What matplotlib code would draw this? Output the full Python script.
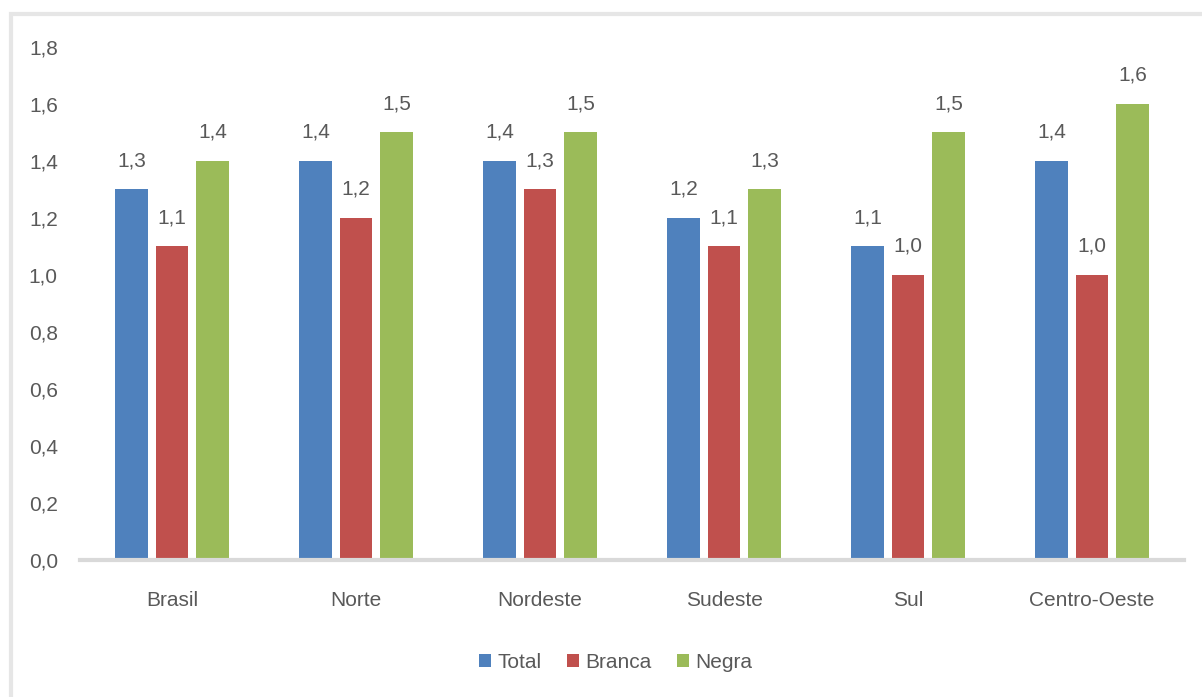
import numpy as np
import matplotlib.pyplot as plt
from matplotlib.patches import Rectangle

# dados
regioes = ['Brasil', 'Norte', 'Nordeste', 'Sudeste', 'Sul', 'Centro-Oeste']
total = [1.3, 1.4, 1.4, 1.2, 1.1, 1.4]
branca = [1.1, 1.2, 1.3, 1.1, 1.0, 1.0]
negra = [1.4, 1.5, 1.5, 1.3, 1.5, 1.6]
yticks = [0.0, 0.2, 0.4, 0.6, 0.8, 1.0, 1.2, 1.4, 1.6, 1.8]

plt.rcParams['font.family'] = ['Liberation Sans', 'DejaVu Sans']
cinza = '#595959'

fig = plt.figure(figsize=(12.02, 6.97), dpi=100)
ax = fig.add_axes([0.0666, 0.1966, 0.9184, 0.736])

# moldura externa
fig.patches.append(Rectangle((0.009, -0.01), 1.0, 0.99, transform=fig.transFigure,
                             fill=False, edgecolor='#e6e6e6', linewidth=3))

x = np.arange(len(regioes))
w = 0.175
d = 0.22
series = [('Total', total, '#4f81bd', -d), ('Branca', branca, '#c0504d', 0),
          ('Negra', negra, '#9bbb59', d)]

for nome, vals, cor, off in series:
    bars = ax.bar(x + off, vals, w, color=cor, label=nome, zorder=2)
    for b, v in zip(bars, vals):
        ax.annotate(f'{v:.1f}'.replace('.', ','), (b.get_x() + b.get_width() / 2, v),
                    xytext=(0, 14), textcoords='offset points', ha='center', va='bottom',
                    fontsize=15, color=cinza)

ax.set_xlim(-0.5, len(regioes) - 0.5)
ax.set_ylim(0, 1.8)
ax.set_yticks(yticks)
ax.set_yticklabels([f'{t:.1f}'.replace('.', ',') for t in yticks], fontsize=15, color=cinza)
ax.set_xticks(x)
ax.set_xticklabels(regioes, fontsize=15, color=cinza)
ax.tick_params(axis='y', length=0, pad=16)
ax.tick_params(axis='x', length=0, pad=22)

for s in ['top', 'right', 'left']:
    ax.spines[s].set_visible(False)
ax.spines['bottom'].set_color('#d9d9d9')
ax.spines['bottom'].set_linewidth(3)

ax.legend(loc='upper center', bbox_to_anchor=(0.485, -0.145), ncol=3, frameon=False,
          fontsize=15, labelcolor=cinza, handlelength=0.6, handleheight=0.6,
          handletextpad=0.3, columnspacing=1.2)

plt.savefig('out.png', dpi=100)
